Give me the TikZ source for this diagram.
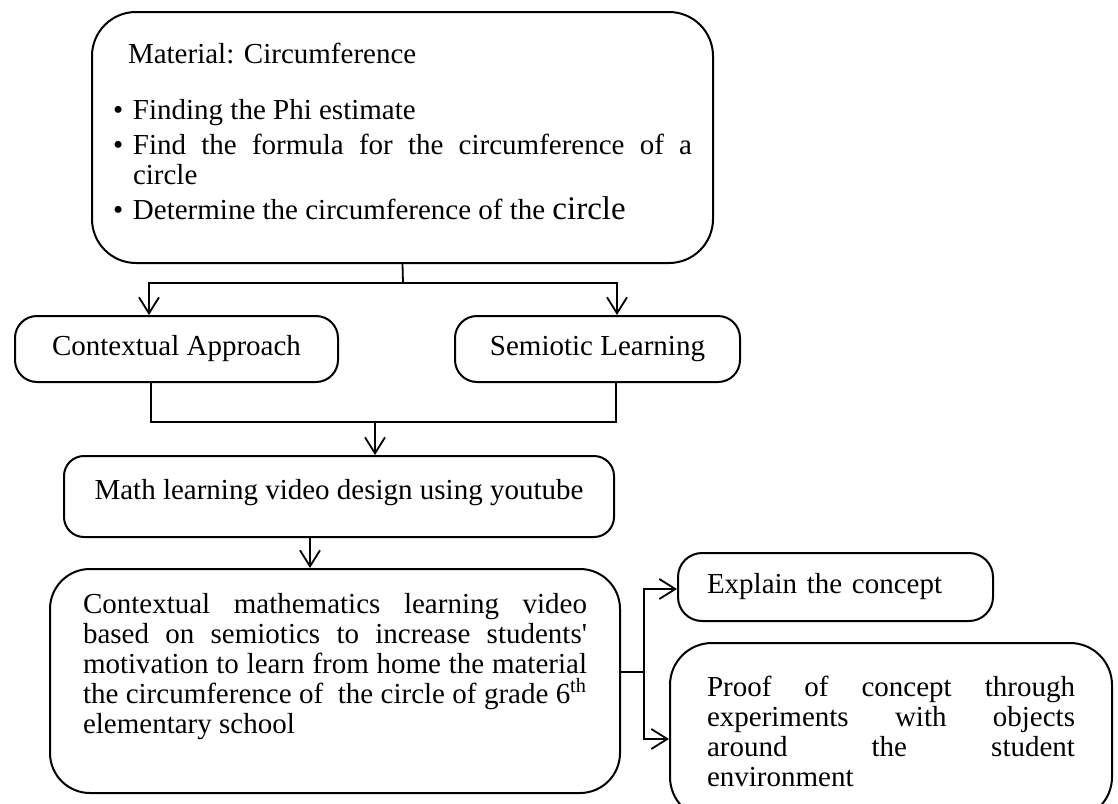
\documentclass[tikz,border=0pt]{standalone}
\usepackage{fontspec}
\setmainfont{Liberation Serif}
\usetikzlibrary{arrows.meta}
\hyphenpenalty=10000
\exhyphenpenalty=10000
\tolerance=9999

% one bullet item with a hanging indent
\newcommand{\bulletitem}{\par\hangindent=10pt\hangafter=1\noindent\makebox[10pt][l]{\textbullet}}

\begin{document}
\begin{tikzpicture}[
    x=0.5pt, y=-0.5pt,
    box/.style={rectangle, draw, line width=1pt, rounded corners=11pt, inner ysep=0pt, font=\fontsize{14.5}{15}\selectfont},
    textbox/.style={box, align=justify},
    line/.style={line width=0.9pt},
    arrow/.style={line width=0.9pt, -{Straight Barb[length=8pt,width=10pt]}}
]
\useasboundingbox (0,0) rectangle (1118,803);

% Nodes
\node[textbox, rounded corners=22pt, inner xsep=10.5pt, text width=289.5pt, minimum height=125.5pt] (material) at (402.5,137.5) {%
    \hspace*{7.5pt}Material: Circumference\par\vspace{13pt}
    \bulletitem Finding the Phi estimate\par\vspace{2.5pt}
    \bulletitem Find the formula for the circumference of a\linebreak circle\par\vspace{2.5pt}
    \bulletitem Determine the circumference of the {\fontsize{16.5}{15}\selectfont circle}\rule[-6pt]{0pt}{0pt}};
\node[box, minimum width=161.5pt, minimum height=33pt] (ctx) at (176.5,349) {Contextual Approach};
\node[box, minimum width=142.5pt, minimum height=33pt] (semio) at (597.5,349) {Semiotic Learning};
\node[box, rounded corners=10pt, minimum width=275pt, minimum height=40.5pt] (design) at (339,496.5) {Math learning video design using youtube\rule[-7pt]{0pt}{0pt}};
\node[textbox, rounded corners=20pt, inner xsep=16.5pt, text width=252pt, minimum height=112pt] (video) at (335,681) {%
    Contextual mathematics learning video\linebreak
    based on semiotics to increase students\textquotesingle\linebreak
    motivation to learn from home the material\linebreak
    the circumference of\ \ the circle of grade 6\textsuperscript{th}\linebreak
    elementary school\rule[-18pt]{0pt}{0pt}};
\node[box, rounded corners=12pt, align=left, inner xsep=14.5pt, text width=128.5pt, minimum height=34pt] (explain) at (835.5,587) {Explain the concept};
\node[textbox, rounded corners=21pt, inner xsep=18.5pt, text width=184pt, minimum height=88pt] (proof) at (891,731) {%
    Proof of concept through\linebreak
    experiments with objects\linebreak
    around the student\linebreak
    environment};

% Junction points
\coordinate (split) at (403,283);
\coordinate (join) at (375,422);
\coordinate (fork) at (644,672);

% Arrows
\draw[line] (material.south) -- (split);
\draw[arrow] (split) -| ([xshift=-13.75pt]ctx.north);
\draw[arrow] (split) -| ([xshift=9.75pt]semio.north);
\draw[line] ([xshift=-12.75pt]ctx.south) |- (join);
\draw[line] ([xshift=9.25pt]semio.south) |- (join);
\draw[arrow] (join) -- (join |- design.north);
\draw[arrow] ([xshift=-14.5pt]design.south) -- ([xshift=-12.5pt]video.north);
\draw[line] ([yshift=4.5pt]video.east) -- (fork);
\draw[arrow] (fork) |- ([yshift=-1pt]explain.west);
\draw[arrow] (fork) |- ([yshift=-4pt]proof.west);

\end{tikzpicture}
\end{document}
